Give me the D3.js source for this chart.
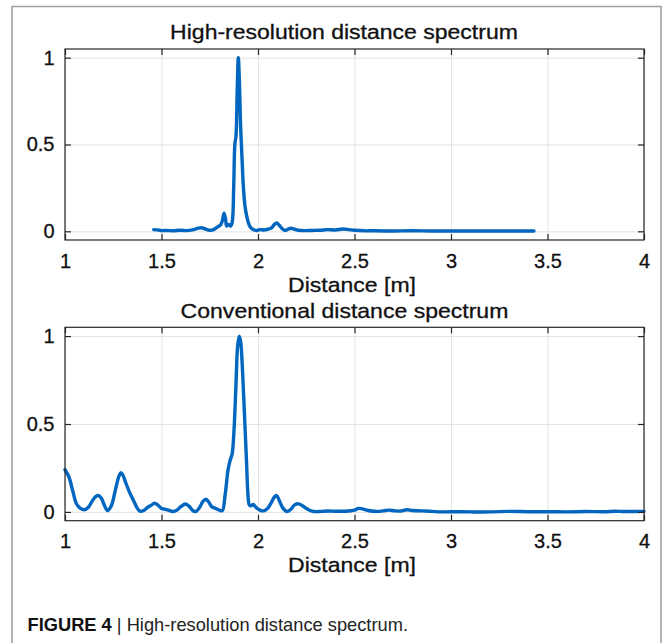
<!DOCTYPE html>
<html lang="en">
<head>
<meta charset="utf-8">
<style>
  body { margin: 0; background: white; }
  svg { font-family: 'Liberation Sans', Arial, sans-serif; }
  svg text { stroke: #111; stroke-width: 0.3; }
  .grid line { stroke: #e3e3e3; stroke-width: 1; }
  .grid path { display: none; }
  .axis path { display: none; }
  .axis line { stroke: #262626; stroke-width: 1.2; }
  .axis text { fill: #111; font-size: 20px; }
  .line { fill: none; stroke: #0066bf; stroke-width: 3.4; stroke-linejoin: round; stroke-linecap: round; }
</style>
</head>
<body>
<svg width="664" height="643"></svg>
<script src="https://d3js.org/d3.v7.min.js"></script>
<script>
// tick values
const xTicks = [1, 1.5, 2, 2.5, 3, 3.5, 4]
const yTicks = [0, 0.5, 1]

// high-resolution spectrum (distance m, normalised amplitude)
const hiX = [1.46, 1.48, 1.50, 1.53, 1.56, 1.60, 1.63, 1.66, 1.69, 1.71, 1.73, 1.75, 1.77, 1.79, 1.805, 1.815, 1.824, 1.832, 1.838, 1.848, 1.858, 1.866, 1.874, 1.88, 1.886, 1.892, 1.898, 1.904, 1.91, 1.918, 1.924, 1.932, 1.941, 1.95, 1.96, 1.975, 1.99, 2.01, 2.03, 2.05, 2.07, 2.085, 2.097, 2.11, 2.125, 2.14, 2.155, 2.17, 2.19, 2.21, 2.24, 2.28, 2.32, 2.36, 2.40, 2.44, 2.47, 2.50, 2.55, 2.60, 2.70, 2.80, 2.90, 3.00, 3.10, 3.20, 3.30, 3.43]
const hiY = [0.01, 0.008, 0.004, 0.005, 0.003, 0.006, 0.004, 0.008, 0.018, 0.02, 0.012, 0.006, 0.01, 0.025, 0.035, 0.06, 0.105, 0.07, 0.03, 0.04, 0.03, 0.05, 0.25, 0.5, 0.55, 0.8, 1.0, 0.85, 0.6, 0.4, 0.26, 0.15, 0.09, 0.05, 0.025, 0.01, 0.005, 0.01, 0.008, 0.012, 0.02, 0.04, 0.048, 0.035, 0.015, 0.005, 0.012, 0.018, 0.012, 0.006, 0.004, 0.005, 0.006, 0.01, 0.008, 0.013, 0.01, 0.006, 0.003, 0.003, 0.002, 0.003, 0.002, 0.002, 0.002, 0.002, 0.002, 0.002]

// conventional spectrum
const convX = [1.00, 1.02, 1.04, 1.06, 1.08, 1.10, 1.12, 1.14, 1.16, 1.175, 1.19, 1.205, 1.22, 1.24, 1.26, 1.28, 1.29, 1.30, 1.315, 1.335, 1.355, 1.375, 1.39, 1.41, 1.43, 1.45, 1.465, 1.48, 1.50, 1.52, 1.54, 1.56, 1.58, 1.60, 1.625, 1.645, 1.665, 1.68, 1.70, 1.715, 1.73, 1.745, 1.76, 1.78, 1.80, 1.815, 1.83, 1.845, 1.855, 1.866, 1.875, 1.885, 1.895, 1.903, 1.91, 1.92, 1.93, 1.94, 1.948, 1.955, 1.965, 1.975, 1.99, 2.01, 2.03, 2.05, 2.07, 2.085, 2.097, 2.11, 2.13, 2.15, 2.17, 2.19, 2.21, 2.23, 2.25, 2.27, 2.29, 2.33, 2.36, 2.40, 2.45, 2.50, 2.52, 2.54, 2.57, 2.60, 2.63, 2.66, 2.68, 2.71, 2.74, 2.77, 2.80, 2.85, 2.90, 2.95, 3.00, 3.10, 3.20, 3.30, 3.40, 3.50, 3.60, 3.70, 3.80, 3.85, 3.90, 4.00]
const convY = [0.24, 0.2, 0.12, 0.045, 0.02, 0.012, 0.025, 0.06, 0.088, 0.093, 0.075, 0.035, 0.008, 0.035, 0.12, 0.205, 0.223, 0.21, 0.165, 0.11, 0.065, 0.02, 0.003, 0.01, 0.028, 0.04, 0.05, 0.04, 0.02, 0.015, 0.008, 0.002, 0.01, 0.03, 0.045, 0.03, 0.005, 0.003, 0.03, 0.06, 0.072, 0.055, 0.03, 0.02, 0.01, 0.007, 0.1, 0.24, 0.29, 0.33, 0.45, 0.7, 0.95, 1.0, 0.97, 0.8, 0.55, 0.3, 0.1, 0.04, 0.035, 0.042, 0.025, 0.01, 0.006, 0.02, 0.055, 0.085, 0.093, 0.065, 0.02, 0.002, 0.015, 0.04, 0.046, 0.035, 0.02, 0.008, 0.002, 0.003, 0.005, 0.004, 0.004, 0.01, 0.02, 0.017, 0.008, 0.004, 0.003, 0.008, 0.01, 0.006, 0.005, 0.012, 0.008, 0.006, 0.003, 0, 0.001, 0, 0, 0.003, 0.001, 0.001, 0, 0.002, 0.001, 0.004, 0.002, 0.003]

const svg = d3.select("svg")
const left = 65, right = 644
const x = d3.scaleLinear().domain([1, 4]).range([left, right])

// outer figure frame
svg.append("path")
  .attr("d", "M12,643 L12,6.5 L661,6.5 L661,643")
  .attr("fill", "none").attr("stroke", "#a0a0a0").attr("stroke-width", 1.6)

// squeeze / stretch a text horizontally about its anchor so it spans w px
function fitWidth(t, w) {
  const n = t.node().getComputedTextLength()
  const ax = +t.attr("x")
  t.attr("transform", "translate(" + ax + ",0) scale(" + (w / n) + ",1) translate(" + (-ax) + ",0)")
}

function panel(top, bottom, xs, ys, title, titleX, titleY, titleW, labelY) {
  const y = d3.scaleLinear().domain([-0.05, 1.05]).range([bottom, top])
  const g = svg.append("g")
  const h = bottom - top, w = right - left

  g.append("g").attr("class", "grid")
    .attr("transform", "translate(0," + bottom + ")")
    .call(d3.axisBottom(x).tickValues(xTicks).tickSize(-h).tickFormat(""))
  g.append("g").attr("class", "grid")
    .attr("transform", "translate(" + left + ",0)")
    .call(d3.axisLeft(y).tickValues(yTicks).tickSize(-w).tickFormat(""))

  g.append("path")
    .datum(xs.map((d, i) => [d, ys[i]]))
    .attr("class", "line")
    .attr("d", d3.line().x(d => x(d[0])).y(d => y(d[1])).curve(d3.curveCatmullRom.alpha(0.5)))

  g.append("rect")
    .attr("x", left).attr("y", top).attr("width", w).attr("height", h)
    .attr("fill", "none").attr("stroke", "#262626").attr("stroke-width", 1.2)

  g.append("g").attr("class", "axis")
    .attr("transform", "translate(0," + bottom + ")")
    .call(d3.axisBottom(x).tickValues(xTicks).tickSizeInner(-6).tickSizeOuter(0).tickPadding(13.5).tickFormat(d3.format("")))
  g.append("g").attr("class", "axis")
    .attr("transform", "translate(0," + top + ")")
    .call(d3.axisTop(x).tickValues(xTicks).tickSizeInner(-6).tickSizeOuter(0).tickFormat(""))
  g.append("g").attr("class", "axis")
    .attr("transform", "translate(" + left + ",0)")
    .call(d3.axisLeft(y).tickValues(yTicks).tickSizeInner(-6).tickSizeOuter(0).tickPadding(10.5).tickFormat(d3.format("")))
  g.append("g").attr("class", "axis")
    .attr("transform", "translate(" + right + ",0)")
    .call(d3.axisRight(y).tickValues(yTicks).tickSizeInner(-6).tickSizeOuter(0).tickFormat(""))

  const t = g.append("text").attr("x", titleX).attr("y", titleY)
    .attr("text-anchor", "middle").attr("font-size", 20).attr("fill", "#111").text(title)
  fitWidth(t, titleW)
  const l = g.append("text").attr("x", 352).attr("y", labelY)
    .attr("text-anchor", "middle").attr("font-size", 20.5).attr("fill", "#111").text("Distance [m]")
  fitWidth(l, 128)
}

panel(49, 240, hiX, hiY, "High-resolution distance spectrum", 344, 39.5, 348, 292)
panel(327.3, 520.7, convX, convY, "Conventional distance spectrum", 344.5, 318.5, 328, 572.5)

// caption
const cap = svg.append("text").attr("x", 27.5).attr("y", 631).attr("font-size", 18)
  .attr("fill", "#222").style("stroke", "none")
cap.append("tspan").attr("font-weight", "bold").attr("fill", "#111").text("FIGURE 4")
cap.append("tspan").text(" | High-resolution distance spectrum.")
fitWidth(cap, 381)
</script>
</body>
</html>
